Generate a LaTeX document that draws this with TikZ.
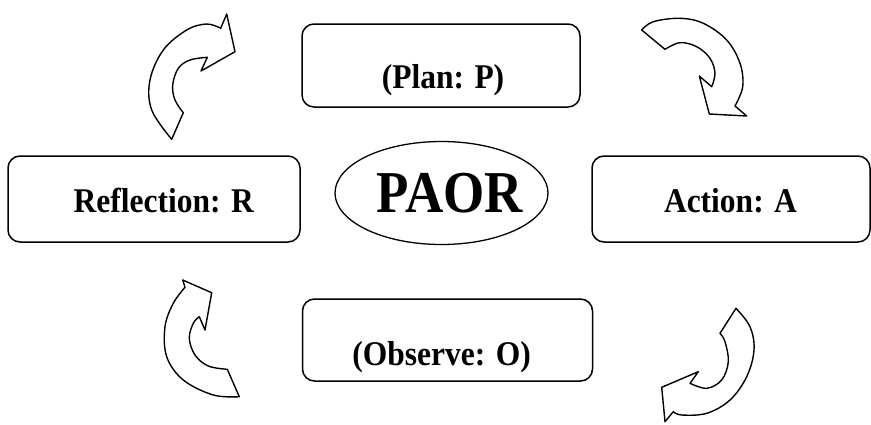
\documentclass[tikz,border=0pt]{standalone}
\usepackage{fontspec}
\setmainfont{Liberation Serif}
\usepackage{graphicx}
\usetikzlibrary{shapes.geometric}
\begin{document}
\begin{tikzpicture}[x=1pt,y=-1pt,
  stagebox/.style={draw=black,line width=1.5pt,rounded corners=12pt,inner sep=0pt},
  stagetext/.style={anchor=base,inner sep=0pt,font=\bfseries\fontsize{31.5}{36}\selectfont},
  bigtext/.style={anchor=base,inner sep=0pt,font=\bfseries\fontsize{53}{60}\selectfont},
  cyclearrow/.style={draw=black,fill=white,line width=1.4pt,line join=round}]
\useasboundingbox (0,0) rectangle (871,424);
% boxes
\node[stagebox,minimum width=278pt,minimum height=83pt] (plan) at (441,65.5) {};
\node[stagebox,minimum width=292pt,minimum height=86pt] (reflection) at (154,199) {};
\node[stagebox,minimum width=278pt,minimum height=86pt] (action) at (731,199) {};
\node[stagebox,minimum width=290pt,minimum height=82pt] (observe) at (447.5,340) {};
\node[draw=black,line width=1.3pt,ellipse,minimum width=213pt,minimum height=103pt,inner sep=0pt] (paor) at (441.5,193) {};
% texts
\node[stagetext] (plantext) at (443,88.3) {\scalebox{1}[1.1]{(Plan: P)}};
\node[stagetext] (reflectiontext) at (163.8,212.7) {\scalebox{1}[1.1]{Reflection: R}};
\node[stagetext] (actiontext) at (730.5,212.7) {\scalebox{1}[1.1]{Action: A}};
\node[stagetext] (observetext) at (441.7,365) {\scalebox{1}[1.1]{(Observe: O)}};
\node[bigtext] (paortext) at (450,212.7) {\scalebox{1}[1.12]{PAOR}};
% top-left arrow
\draw[cyclearrow] (171.7,139.3) -- (183.3,112.7)
  -- plot[smooth,tension=0.6] coordinates {(183.3,112.7) (175,100) (172.7,85) (178.3,68.3) (190,60) (207.3,57.3)}
  -- (201,71) -- (235,51.7) -- (226.7,14) -- (220.7,28.3)
  -- plot[smooth,tension=0.6] coordinates {(220.7,28.3) (206.7,24) (186.7,30) (163.3,50) (150,80) (151.7,110) (171.7,139.3)}
  -- cycle;
% top-right arrow
\draw[cyclearrow] (641.7,30) -- (665,49.3)
  -- plot[smooth,tension=0.6] coordinates {(665,49.3) (680,42.7) (696.7,46.7) (710,58.3) (715,73.3) (711.7,86.7)}
  -- (699.3,76) -- (709.3,114) -- (746.7,116) -- (735,106)
  -- plot[smooth,tension=0.6] coordinates {(735,106) (742.7,86.7) (740,63.3) (726.7,40) (703.3,23.3) (680,18.3) (653.3,21.7) (641.7,30)}
  -- cycle;
% bottom-right arrow
\draw[cyclearrow] (736,308.3) -- (720,333.3)
  -- plot[smooth,tension=0.6] coordinates {(720,333.3) (725,341.7) (728.3,361.7) (721.7,380) (706.7,388.3) (690,383.3)}
  -- (698.3,371.7) -- (661.7,387.3) -- (665,421.7) -- (673.3,411.7)
  -- plot[smooth,tension=0.6] coordinates {(673.3,411.7) (681.7,415) (706.7,413.3) (730,400) (746.7,376.7) (754,350) (750,326.7) (736,308.3)}
  -- cycle;
% bottom-left arrow
\draw[cyclearrow] (239.3,396.7) -- (227.3,369.3)
  -- plot[smooth,tension=0.6] coordinates {(227.3,369.3) (208.3,366) (195,355) (189.3,338.3) (193.3,323.3) (199.3,316.7)}
  -- (205,330) -- (211.7,292.7) -- (182.7,280) -- (185,287.3)
  -- plot[smooth,tension=0.6] coordinates {(185,287.3) (173.3,303.3) (165,326.7) (166.7,356.7) (183.3,380) (213.3,395) (239.3,396.7)}
  -- cycle;
\end{tikzpicture}
\end{document}
